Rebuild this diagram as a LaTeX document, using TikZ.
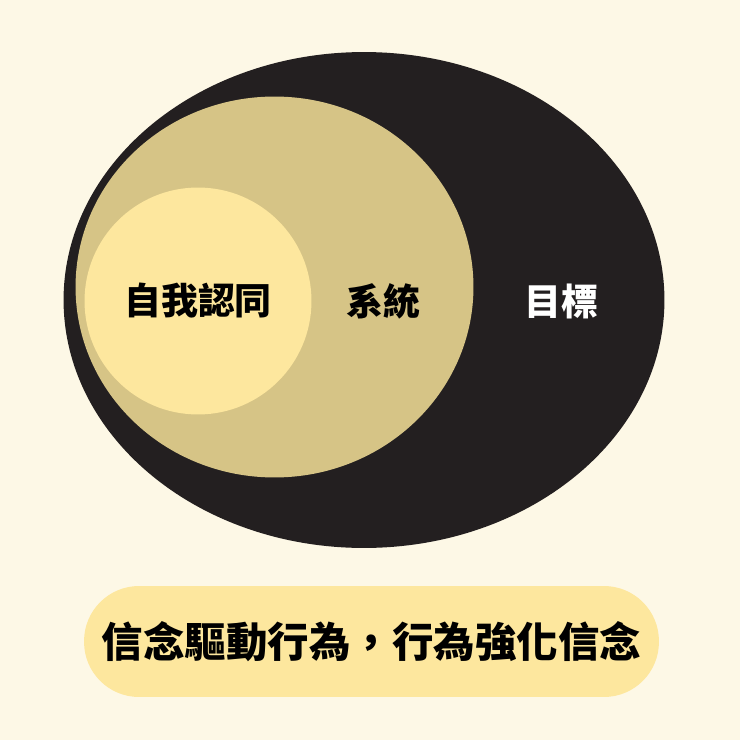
\documentclass[tikz,border=0pt]{standalone}
\usepackage{fontspec}
\newfontfamily\cjk{Noto Sans CJK TC}
\usetikzlibrary{shapes.geometric,positioning}

\definecolor{paper}{RGB}{253,248,230}
\definecolor{ink}{RGB}{35,31,32}
\definecolor{sand}{RGB}{214,196,134}
\definecolor{butter}{RGB}{253,231,158}

\begin{document}
\begin{tikzpicture}[
  x=0.02cm, y=-0.02cm,
  % Node Styles
  ring/.style={ellipse, inner sep=0pt, draw=none},
  tag/.style={font=\cjk\bfseries\fontsize{21pt}{21pt}\selectfont, inner sep=0pt},
  pill/.style={rectangle, rounded corners=1.1cm, fill=butter, inner sep=0pt, minimum width=11.5cm, minimum height=2.22cm, font=\cjk\bfseries\fontsize{23.6pt}{23.6pt}\selectfont}
]

% ================= BACKGROUND =================
\fill[paper] (0,0) rectangle (740,740);
\useasboundingbox (0,0) rectangle (740,740);

% ================= NODES =================

% --- Nested rings ---
\node[ring, fill=ink, minimum width=12.02cm, minimum height=9.92cm] (goal) at (364,300) {};
\node[ring, fill=sand, minimum width=7.96cm, minimum height=7.62cm] (system) at (274.5,287) {};
\node[ring, fill=butter, minimum width=4.54cm, minimum height=4.54cm] (identity) at (198,301) {};

% --- Labels ---
\node[tag, text=black] (identityLbl) at (identity) {自我認同};
\node[tag, text=black] (systemLbl) at (383,301) {系統};
\node[tag, text=white] (goalLbl) at (561,301) {目標};

% --- Motto (Bottom) ---
\node[pill] (motto) at (371.5,641.5) {信念驅動行為，行為強化信念};

\end{tikzpicture}
\end{document}
